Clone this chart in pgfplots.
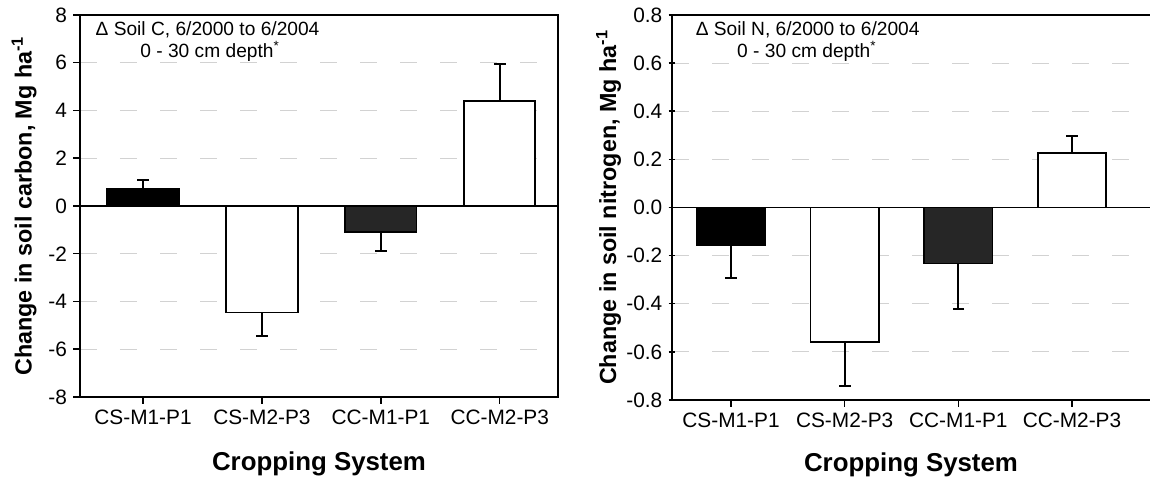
\documentclass[border=0pt]{standalone}
\usepackage{fontspec}
\setmainfont{Liberation Sans}
\usepackage{pgfplots}
\pgfplotsset{compat=1.18}
\begin{document}
\begin{tikzpicture}
\pgfplotsset{
  common/.style={
    scale only axis, width=286.8pt,
    ybar, bar width=0.6, bar shift=0pt,
    line width=1pt,
    tick style={black, line width=0.9pt},
    major tick length=4pt,
    tick align=outside,
    xtick={0,1,2,3},
    xticklabels={CS-M1-P1,CS-M2-P3,CC-M1-P1,CC-M2-P3},
    x tick label style={font=\fontsize{12.5}{14}\selectfont, yshift=0pt},
    y tick label style={font=\fontsize{12.5}{14}\selectfont},
    /pgf/number format/assume math mode=true,
    xlabel={\fontsize{15.5}{17}\selectfont\bfseries Cropping System},
    xlabel style={yshift=-9pt},
    ylabel style={font=\fontsize{14}{16}\selectfont\bfseries, yshift=-8pt},
    ymajorgrids,
    grid style={gray!35, line width=0.6pt, dash pattern=on 10pt off 14pt},
    extra y ticks={0}, extra y tick labels={},
    extra y tick style={grid=major, major grid style={black, solid, line width=1.1pt}},
    xtick pos=bottom, ytick pos=left,
    error bars/error bar style={line width=1.2pt, black},
    error bars/error mark options={rotate=90, mark size=3.5pt, line width=1.2pt, black},
  },
  bb/.style={draw=black, line width=1.1pt}
}
\begin{axis}[common, height=229.2pt,
  xmin=-0.53, xmax=3.49, ymin=-8, ymax=8, ytick={-8,-6,...,8},
  ylabel={Change in soil carbon, Mg ha\textsuperscript{-1}}]
\addplot[bb, fill=black, error bars/.cd, y dir=plus, y explicit] coordinates {(0,0.70) +- (0,0.39)};
\addplot[bb, fill=white, error bars/.cd, y dir=minus, y explicit] coordinates {(1,-4.46) +- (0,0.98)};
\addplot[bb, fill=black!85, error bars/.cd, y dir=minus, y explicit] coordinates {(2,-1.08) +- (0,0.80)};
\addplot[bb, fill=white, error bars/.cd, y dir=plus, y explicit] coordinates {(3,4.39) +- (0,1.55)};
\node[anchor=west, font=\fontsize{11.5}{13}\selectfont, inner sep=0pt] at (rel axis cs:0.031,0.962) {Δ Soil C, 6/2000 to 6/2004};
\node[font=\fontsize{11.5}{13}\selectfont, inner sep=0pt] at (rel axis cs:0.272,0.905) {0 - 30 cm depth\textsuperscript{*}};
\end{axis}
\begin{axis}[common, height=231pt, xshift=355.2pt, yshift=-1.8pt,
  axis x line=box, axis y line=left, axis line style={-},
  xlabel style={yshift=-8pt},
  xmin=-0.519, xmax=3.686, ymin=-0.8, ymax=0.8, ytick={-0.8,-0.6,...,0.8},
  yticklabel style={/pgf/number format/.cd, fixed, fixed zerofill, precision=1},
  ylabel={Change in soil nitrogen, Mg ha\textsuperscript{-1}}]
\addplot[bb, fill=black, error bars/.cd, y dir=minus, y explicit] coordinates {(0,-0.155) +- (0,0.14)};
\addplot[bb, fill=white, error bars/.cd, y dir=minus, y explicit] coordinates {(1,-0.56) +- (0,0.18)};
\addplot[bb, fill=black!85, error bars/.cd, y dir=minus, y explicit] coordinates {(2,-0.233) +- (0,0.19)};
\addplot[bb, fill=white, error bars/.cd, y dir=plus, y explicit] coordinates {(3,0.228) +- (0,0.068)};
\node[anchor=west, font=\fontsize{11.5}{13}\selectfont, inner sep=0pt] at (rel axis cs:0.048,0.962) {Δ Soil N, 6/2000 to 6/2004};
\node[font=\fontsize{11.5}{13}\selectfont, inner sep=0pt] at (rel axis cs:0.282,0.905) {0 - 30 cm depth\textsuperscript{*}};
\end{axis}
\pgfresetboundingbox
\path (-48pt,-49.8pt) rectangle (642pt,238.2pt);
\end{tikzpicture}
\end{document}
